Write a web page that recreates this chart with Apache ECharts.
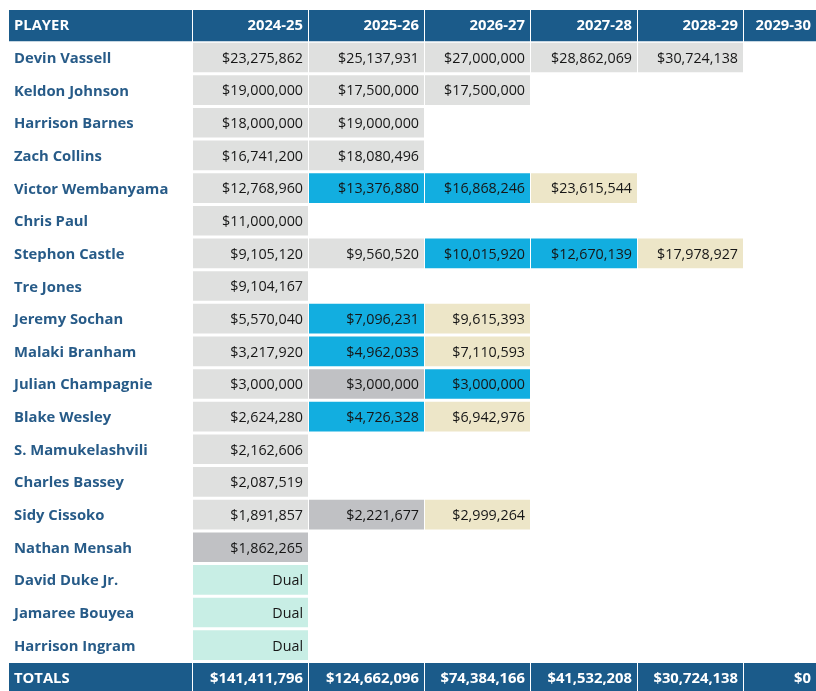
<!DOCTYPE html>
<html>
<head>
<meta charset="utf-8">
<script src="https://cdn.jsdelivr.net/npm/echarts@6/dist/echarts.min.js"></script>
<style>
html,body{margin:0;padding:0;background:#fff;}
#chart{width:816px;height:691px;}
</style>
</head>
<body>
<div id="chart"></div>
<script>
// ---- data ----
const players = ["Devin Vassell","Keldon Johnson","Harrison Barnes","Zach Collins","Victor Wembanyama","Chris Paul","Stephon Castle","Tre Jones","Jeremy Sochan","Malaki Branham","Julian Champagnie","Blake Wesley","S. Mamukelashvili","Charles Bassey","Sidy Cissoko","Nathan Mensah","David Duke Jr.","Jamaree Bouyea","Harrison Ingram"];
const seasons = ["2024-25","2025-26","2026-27","2027-28","2028-29","2029-30"];
const salary2024 = [23275862,19000000,18000000,16741200,12768960,11000000,9105120,9104167,5570040,3217920,3000000,2624280,2162606,2087519,1891857,1862265,"Dual","Dual","Dual"];
const salary2025 = [25137931,17500000,19000000,18080496,13376880,null,9560520,null,7096231,4962033,3000000,4726328,null,null,2221677,null,null,null,null];
const salary2026 = [27000000,17500000,null,null,16868246,null,10015920,null,9615393,7110593,3000000,6942976,null,null,2999264,null,null,null,null];
const salary2027 = [28862069,null,null,null,23615544,null,12670139,null,null,null,null,null,null,null,null,null,null,null,null];
const salary2028 = [30724138,null,null,null,null,null,17978927,null,null,null,null,null,null,null,null,null,null,null,null];
const salary2029 = [null,null,null,null,null,null,null,null,null,null,null,null,null,null,null,null,null,null,null];
// status: G guaranteed, N non-guaranteed, O option, Q qualifying offer, T two-way
const status2024 = ["G","G","G","G","G","G","G","G","G","G","G","G","G","G","G","N","T","T","T"];
const status2025 = ["G","G","G","G","O",null,"G",null,"O","O","N","O",null,null,"N",null,null,null,null];
const status2026 = ["G","G",null,null,"O",null,"O",null,"Q","Q","O","Q",null,null,"Q",null,null,null,null];
const status2027 = ["G",null,null,null,"Q",null,"O",null,null,null,null,null,null,null,null,null,null,null,null];
const status2028 = ["G",null,null,null,null,null,"Q",null,null,null,null,null,null,null,null,null,null,null,null];
const status2029 = [null,null,null,null,null,null,null,null,null,null,null,null,null,null,null,null,null,null,null];
const totals = [141411796,124662096,74384166,41532208,30724138,0];

// ---- layout / style ----
const colSpans = [[0,183],[184,299],[300,415],[416,521],[522,628],[629,734],[735,807]];
const fills = {G:"#dfe0df", N:"#c0c1c4", O:"#12aee0", Q:"#ede6c8", T:"#c8eee5"};
const headBlue = "#1b5b8a";
const nameBlue = "#275b88";
const FONT = "'Open Sans', sans-serif";

const salaries = [salary2024,salary2025,salary2026,salary2027,salary2028,salary2029];
const statuses = [status2024,status2025,status2026,status2027,status2028,status2029];
const rows = ["PLAYER"].concat(players).concat(["TOTALS"]);

function money(v){ return typeof v === "number" ? "$" + v.toLocaleString("en-US") : v; }

const cells = [];
cells.push({c:0, r:0, text:"PLAYER", kind:"head", align:"left"});
seasons.forEach((s,i)=>cells.push({c:i+1, r:0, text:s, kind:"head", align:"right"}));
players.forEach((p,ri)=>{
  cells.push({c:0, r:ri+1, text:p, kind:"name", align:"left"});
  for(let k=0;k<seasons.length;k++){
    const v = salaries[k][ri];
    if(v===null||v===undefined) continue;
    cells.push({c:k+1, r:ri+1, text:money(v), kind:"val", status:statuses[k][ri], align:"right"});
  }
});
const tr = rows.length-1;
cells.push({c:0, r:tr, text:"TOTALS", kind:"head", align:"left"});
totals.forEach((v,i)=>cells.push({c:i+1, r:tr, text:money(v), kind:"head", align:"right"}));

function renderItem(params, api){
  const d = cells[params.dataIndex];
  const span = colSpans[d.c];
  const p0 = api.coord([span[0], d.r]);
  const p1 = api.coord([span[1], d.r]);
  const bh = api.size([0,1])[1];
  const top = p0[1] - bh/2 + 0.5;
  const h = d.kind==="head" ? bh - 1.5 : bh - 3;
  const children = [];
  let fill = null, color = "#161616", weight = "normal", size = "14.3px ";
  if(d.kind==="head"){ fill = headBlue; color = "#ffffff"; weight = "bold"; size = "14.8px "; }
  else if(d.kind==="name"){ color = nameBlue; weight = "bold"; size = "14.8px "; }
  else { fill = fills[d.status]; }
  if(fill){
    children.push({type:"rect", shape:{x:p0[0], y:top, width:p1[0]-p0[0], height:h}, style:{fill:fill}});
  }
  children.push({type:"text", style:{
    text:d.text,
    x: d.align==="left" ? p0[0]+5 : p1[0]-5,
    y: top + (bh - 3)/2 + 1.3,
    align:d.align, verticalAlign:"middle",
    fill:color,
    font: weight + " " + size + FONT
  }});
  return {type:"group", children:children};
}

const chart = echarts.init(document.getElementById("chart"), null, {renderer:"canvas"});
chart.setOption({
  backgroundColor:"#ffffff",
  animation:false,
  grid:{left:9, right:0, top:9.5, height:685.65, outerBoundsMode:"none", containLabel:false},
  xAxis:{type:"value", min:0, max:807, show:false},
  yAxis:{type:"category", data:rows, inverse:true, show:false},
  series:[{
    type:"custom",
    renderItem:renderItem,
    clip:false,
    data: cells.map(d=>[d.c, d.r])
  }]
});
</script>
</body>
</html>
